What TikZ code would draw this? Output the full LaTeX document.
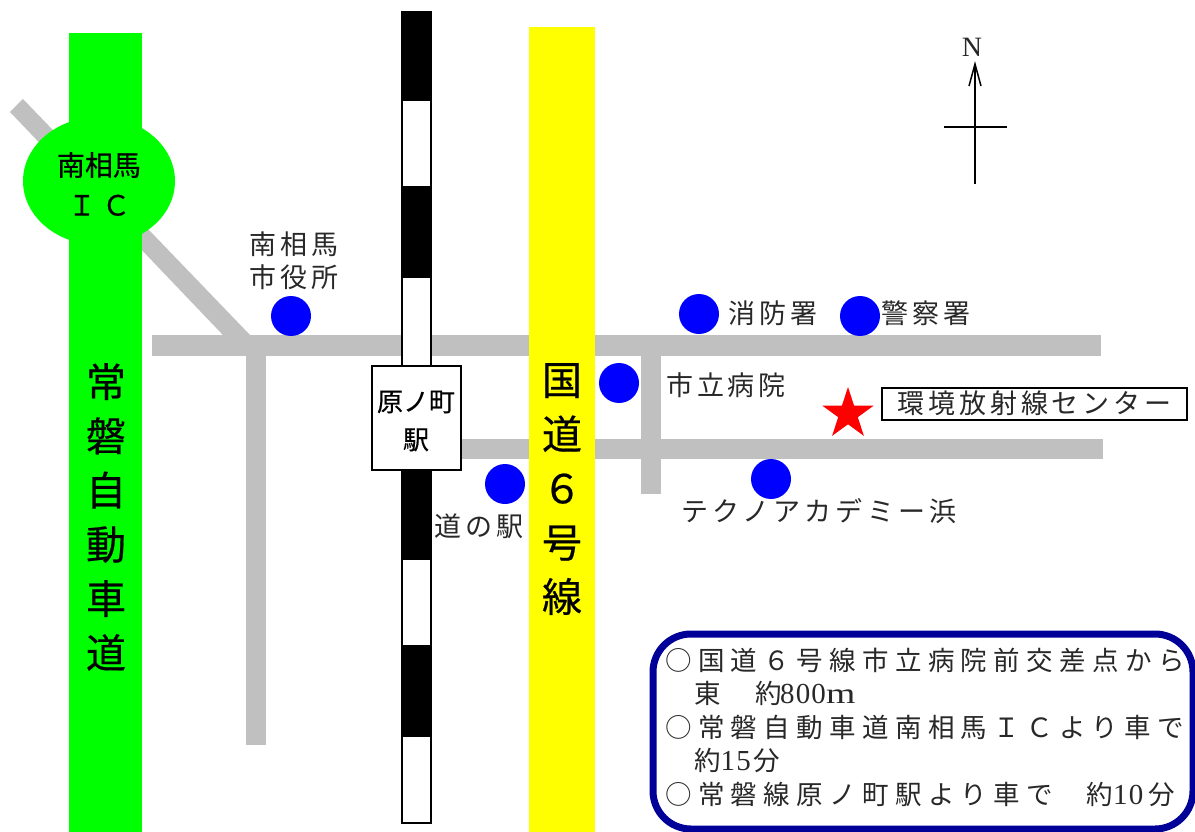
\documentclass[tikz,border=0pt]{standalone}
\usepackage{fontspec}
\usepackage{graphicx}
\usetikzlibrary{shapes.geometric}
\setmainfont{Liberation Serif}
\newfontfamily\jp{Noto Sans CJK JP}
\newfontfamily\jpm[FakeBold=0.5]{Noto Sans CJK JP}
\newfontfamily\jpl[LetterSpace=14]{Noto Sans CJK JP}
\newfontfamily\jpw[LetterSpace=16]{Noto Sans CJK JP}
\newfontfamily\jpb[LetterSpace=24]{Noto Sans CJK JP}
\newfontfamily\dgt[LetterSpace=4]{Liberation Serif}
\newcommand{\dg}[1]{{\dgt\fontsize{29}{29}\selectfont #1}}
\definecolor{roadgray}{RGB}{192,192,192}
\definecolor{navy}{RGB}{0,0,153}
\definecolor{labelink}{RGB}{40,40,40}
\definecolor{pureyellow}{RGB}{255,255,0}
\definecolor{puregreen}{RGB}{0,255,0}
\definecolor{pureblue}{RGB}{0,0,255}
\definecolor{purered}{RGB}{255,0,0}
\tikzset{
  road/.style={fill=roadgray,draw=none},
  dot/.style={circle,fill=pureblue,draw=none,minimum size=40pt,inner sep=0pt},
  railblack/.style={fill=black,draw=black,line width=2pt},
  railwhite/.style={fill=white,draw=black,line width=2pt},
  label/.style={inner sep=0pt,text=labelink,font=\jpl\fontsize{27}{33}\selectfont,align=center},
  widelabel/.style={inner sep=0pt,text=labelink,font=\jpw\fontsize{27}{33}\selectfont,align=center},
  tall/.style={inner sep=0pt,align=center,font=\jpm\fontsize{40}{54.2}\selectfont},
  small/.style={inner sep=0pt,align=center,font=\jpm\fontsize{28}{40}\selectfont},
  info/.style={inner sep=0pt,anchor=west,text=labelink,font=\jpb\fontsize{26.5}{26.5}\selectfont},
  north/.style={line width=2pt},
}
\begin{document}
\begin{tikzpicture}[x=1pt,y=-1pt]
\useasboundingbox (0,0) rectangle (1195,832);
% roads
\fill[road] (23,99) -- (10,112) -- (242,355) -- (250,335) -- cycle;
\fill[road] (152,335) rectangle (1101,356);
\fill[road] (246,335) rectangle (266,745);
\fill[road] (455,439) rectangle (1103,459);
\fill[road] (641,345) rectangle (661,494);
% expressway
\fill[puregreen] (69,33) rectangle (142,832);
\node[ellipse,fill=puregreen,draw=none,minimum width=152pt,minimum height=128pt,inner sep=0pt] (ic) at (99,181) {};
\node[small] (icl) at (99,184) {南相馬\\Ｉ Ｃ};
\node[tall] (joban) at (106,517) {常\\磐\\自\\動\\車\\道};
% railway
\draw[railblack] (402,12) rectangle (431,100);
\draw[railwhite] (402,100) rectangle (431,187);
\draw[railblack] (402,187) rectangle (431,277);
\draw[railwhite] (402,277) rectangle (431,366);
\draw[railblack] (402,470) rectangle (431,559);
\draw[railwhite] (402,559) rectangle (431,646);
\draw[railblack] (402,646) rectangle (431,736);
\draw[railwhite] (402,736) rectangle (431,823);
\node[draw=black,line width=2pt,fill=white,minimum width=89pt,minimum height=104pt,inner sep=0pt] (station) at (416,417.5) {};
\node[inner sep=0pt,align=center,font=\jpm\fontsize{26}{38}\selectfont] (stationl) at (416,421) {原ノ町\\駅};
% route 6
\fill[pureyellow] (529,27) rectangle (595,832);
\node[tall] (r6) at (562,489) {国\\道\\６\\号\\線};
% places
\node[dot] (cityhall) at (291,316) {};
\node[label] (cityhalll) at (294,261) {南相馬\\市役所};
\node[dot] (fire) at (699,314) {};
\node[label] (firel) at (773,313) {消防署};
\node[dot] (police) at (860,316) {};
\node[label] (policel) at (926,313) {警察署};
\node[dot] (hospital) at (619,383) {};
\node[label] (hospitall) at (726,385) {市立病院};
\node[dot] (michi) at (505,484) {};
\node[label] (michil) at (479,526) {道の駅};
\node[dot] (techno) at (771,479) {};
\node[widelabel] (technol) at (819,511) {テクノアカデミー浜};
\node[star,star points=5,star point ratio=2.618,fill=purered,draw=none,minimum size=54pt,inner sep=0pt] (center) at (848,414) {};
\node[draw=black,line width=2pt,fill=white,minimum width=305pt,minimum height=32pt,inner sep=0pt,text=labelink,font=\jpl\fontsize{27}{30}\selectfont] (centerl) at (1034.5,403.5) {環境放射線センター};
% north
\coordinate (ntail) at (975,184);
\coordinate (nhead) at (975,64);
\coordinate (wleft) at (944,127);
\coordinate (wright) at (1007,127);
\node[inner sep=0pt,font=\fontsize{28}{30}\selectfont,text=labelink] (nl) at (972,47) {N};
\draw[north] (ntail) -- (nhead);
\draw[north,line width=1.5pt] (969,86) -- (nhead) -- (981,86);
\draw[north] (wleft) -- (wright);
% info box
\node[draw=navy,line width=7pt,fill=white,rounded corners=38pt,minimum width=540pt,minimum height=195pt,inner sep=0pt] (info) at (923,731.5) {};
\node[info] (i1) at (665,660) {○国道６号線市立病院前交差点から};
\node[info] (i2) at (694,693) {東\hspace{35pt}約\hspace{-2pt}\dg{800}\scalebox{1.3}[1]{\dg{m}}};
\node[info] (i3) at (665,727) {○常磐自動車道南相馬ＩＣより車で};
\node[info] (i4) at (694,760) {約\dg{15}\hspace{3pt}分};
\node[info] (i5) at (665,794) {○常磐線原ノ町駅より車で\hspace{34pt}約\dg{10}\hspace{5pt}分};
\end{tikzpicture}
\end{document}
